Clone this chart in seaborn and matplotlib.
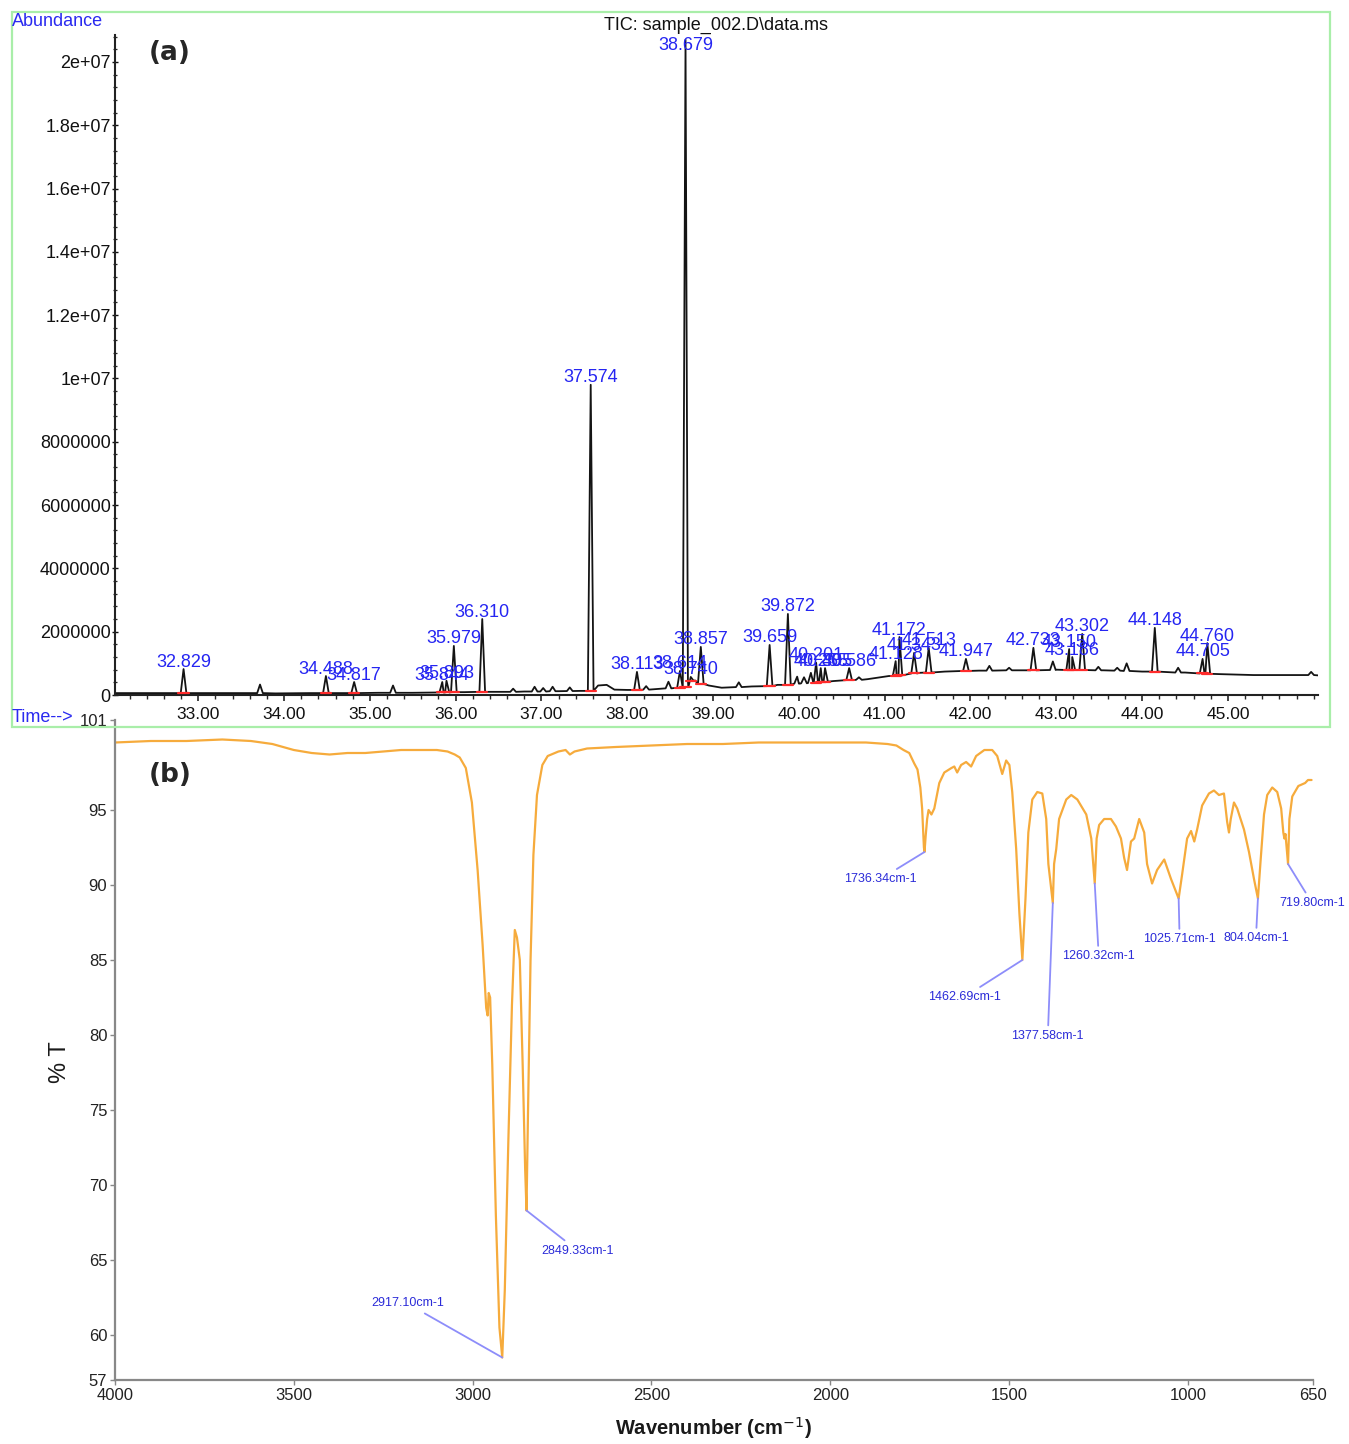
import numpy as np
import pandas as pd
import matplotlib
matplotlib.use("Agg")
import matplotlib.pyplot as plt
from matplotlib.patches import Rectangle
from matplotlib.ticker import FixedLocator, FixedFormatter, MultipleLocator, AutoMinorLocator, FormatStrFormatter
from matplotlib import font_manager
import seaborn as sns

# ------------------------------------------------------------------ data
# (a) TIC chromatogram: baseline knots
tic_base_time = [32.03, 32.6, 33.3, 33.9, 34.3, 34.7, 35.1, 35.5, 35.75, 36.1, 36.5, 36.8,
                 37.2, 37.45, 37.66, 37.76, 37.85, 38.0, 38.3, 38.55, 38.79, 38.95, 39.1,
                 39.45, 39.75, 40.0, 40.4, 40.8, 41.05, 41.4, 41.7, 42.1, 42.6, 43.0, 43.55,
                 44.0, 44.5, 44.9, 45.3, 45.8, 46.05]
tic_base_abund = [6e4, 6e4, 6e4, 5e4, 6e4, 6e4, 7e4, 7e4, 8e4, 9e4, 1.0e5, 1.1e5,
                  1.2e5, 1.3e5, 3.0e5, 3.2e5, 1.7e5, 1.6e5, 1.8e5, 2.2e5, 4.6e5, 3.0e5, 2.3e5,
                  2.7e5, 3.2e5, 3.6e5, 4.4e5, 5.0e5, 6.0e5, 7.0e5, 7.4e5, 7.7e5, 7.8e5, 8.0e5, 7.8e5,
                  7.4e5, 7.1e5, 6.6e5, 6.3e5, 6.3e5, 6.2e5]

# labelled (integrated) peaks
peak_time = [32.829, 34.488, 34.817, 35.844, 35.893, 35.979, 36.310, 37.574, 38.113,
             38.614, 38.679, 38.740, 38.857, 39.659, 39.872, 40.201, 40.255, 40.305,
             40.586, 41.128, 41.172, 41.343, 41.513, 41.947, 42.733, 43.150, 43.186,
             43.302, 44.148, 44.705, 44.760]
peak_label = ["32.829", "34.488", "34.817", "35.844", "35.893", "35.979", "36.310", "37.574",
              "38.113", "38.614", "38.679", "38.740", "38.857", "39.659", "39.872", "40.201",
              "40.255", "40.305", "40.586", "41.128", "41.172", "41.343", "41.513", "41.947",
              "42.733", "43.150", "43.186", "43.302", "44.148", "44.705", "44.760"]
peak_apex = [8.2e5, 6.0e5, 4.1e5, 4.1e5, 4.5e5, 1.55e6, 2.40e6, 9.80e6, 7.3e5,
             7.6e5, 2.07e7, 5.7e5, 1.52e6, 1.58e6, 2.56e6, 1.02e6,
             8.5e5, 8.5e5, 8.5e5, 1.07e6, 1.83e6, 1.33e6, 1.49e6, 1.14e6,
             1.49e6, 1.45e6, 1.20e6, 1.93e6, 2.12e6, 1.14e6, 1.64e6]
peak_floor = [6e4, 6e4, 6e4, 8e4, 8e4, 9e4, 1.0e5, 1.3e5, 1.6e5,
              2.2e5, 2.5e5, 4.5e5, 3.5e5, 2.8e5, 3.2e5, 3.9e5,
              4.1e5, 4.2e5, 4.7e5, 6.0e5, 6.2e5, 6.8e5, 7.1e5, 7.6e5,
              7.8e5, 7.9e5, 7.9e5, 7.9e5, 7.4e5, 6.8e5, 6.7e5]

# small unlabelled peaks
minor_time = [33.72, 35.27, 36.67, 36.92, 37.02, 37.13, 37.33, 38.22, 38.48, 39.30,
              39.98, 40.06, 40.14, 40.70, 42.22, 42.45, 42.96, 43.49, 43.71, 43.82, 44.42, 45.97]
minor_apex = [3.3e5, 3.0e5, 2.0e5, 2.6e5, 2.2e5, 2.6e5, 2.4e5, 2.8e5, 4.2e5, 4.0e5,
              5.8e5, 5.6e5, 7.0e5, 5.6e5, 9.2e5, 8.6e5, 1.06e6, 8.9e5, 8.6e5, 1.0e6, 8.6e5, 7.3e5]
minor_floor = [6e4, 7e4, 1.0e5, 1.1e5, 1.1e5, 1.2e5, 1.25e5, 1.7e5, 2.1e5, 2.5e5,
               3.6e5, 3.7e5, 3.8e5, 4.8e5, 7.7e5, 7.8e5, 7.9e5, 7.8e5, 7.7e5, 7.6e5, 7.1e5, 6.3e5]

abund_ticks = [0, 2e6, 4e6, 6e6, 8e6, 1e7, 1.2e7, 1.4e7, 1.6e7, 1.8e7, 2e7]
abund_tick_labels = ["0", "2000000", "4000000", "6000000", "8000000", "1e+07",
                     "1.2e+07", "1.4e+07", "1.6e+07", "1.8e+07", "2e+07"]
time_ticks = [33, 34, 35, 36, 37, 38, 39, 40, 41, 42, 43, 44, 45]

# (b) FTIR spectrum
ir_wavenumber = [4000, 3900, 3800, 3700, 3620, 3560, 3500, 3450, 3400, 3350, 3300, 3250, 3200,
                 3150, 3100, 3070, 3050, 3036, 3019, 3002, 2986, 2972, 2962, 2958, 2955, 2951,
                 2945, 2935, 2925, 2917.1, 2910, 2900, 2890, 2882, 2876, 2868, 2860, 2853,
                 2849.33, 2845, 2838, 2830, 2820, 2805, 2790, 2760, 2740, 2728, 2715, 2680,
                 2600, 2500, 2400, 2300, 2200, 2100, 2000, 1900, 1840, 1815, 1795, 1779, 1765,
                 1756, 1748, 1743, 1738, 1736.34, 1733, 1729, 1725, 1717, 1709, 1695, 1681,
                 1661, 1653, 1645, 1634, 1620, 1606, 1592, 1569, 1547, 1533, 1519, 1508, 1499,
                 1491, 1480, 1471, 1462.69, 1454, 1446, 1435, 1421, 1407, 1396, 1390, 1377.58,
                 1374, 1368, 1360, 1340, 1326, 1309, 1284, 1270, 1260.32, 1255, 1248, 1234,
                 1215, 1201, 1187, 1178, 1170, 1159, 1150, 1136, 1122, 1114, 1100, 1086, 1066,
                 1047, 1025.71, 1016, 1002, 991, 982, 974, 960, 941, 927, 913, 899, 890, 885,
                 880, 871, 862, 843, 829, 815, 804.04, 796, 787, 778, 764, 750, 739, 733, 730,
                 727, 719.8, 716, 708, 691, 672, 664, 654]
ir_transmittance = [99.5, 99.6, 99.6, 99.7, 99.6, 99.4, 99.0, 98.8, 98.7, 98.8, 98.8, 98.9, 99.0,
                    99.0, 99.0, 98.9, 98.7, 98.5, 97.8, 95.5, 91.0, 86.0, 81.8, 81.3, 82.8, 82.5,
                    78.0, 68.0, 60.5, 58.5, 63.0, 73.0, 82.0, 87.0, 86.5, 85.0, 78.0, 71.0,
                    68.3, 75.0, 85.0, 92.0, 96.0, 98.0, 98.6, 98.9, 99.0, 98.7, 98.9, 99.1,
                    99.2, 99.3, 99.4, 99.4, 99.5, 99.5, 99.5, 99.5, 99.4, 99.3, 99.0, 98.8, 98.1,
                    97.7, 96.5, 95.1, 92.5, 92.2, 93.3, 94.4, 95.0, 94.7, 95.1, 96.8, 97.5,
                    97.8, 97.9, 97.5, 98.0, 98.2, 97.9, 98.6, 99.0, 99.0, 98.6, 97.4, 98.3, 98.0,
                    96.2, 92.4, 88.1, 85.0, 89.1, 93.5, 95.7, 96.2, 96.1, 94.4, 91.4, 88.8,
                    91.4, 92.4, 94.4, 95.7, 96.0, 95.7, 94.7, 93.1, 90.1, 93.1, 94.0, 94.4,
                    94.4, 93.9, 93.1, 91.8, 91.0, 92.9, 93.1, 94.4, 93.5, 91.4, 90.1, 91.0, 91.7,
                    90.4, 89.1, 90.7, 93.1, 93.6, 92.9, 93.7, 95.3, 96.1, 96.3, 96.0, 96.1, 94.2, 93.5,
                    94.4, 95.5, 95.1, 93.7, 92.2, 90.4, 89.1, 91.8, 94.7, 96.0, 96.5, 96.2, 95.1, 93.5, 93.1,
                    93.4, 91.4, 94.4, 95.9, 96.6, 96.8, 97.0, 97.0]

ir_peak_labels = ["2917.10cm-1", "2849.33cm-1", "1736.34cm-1", "1462.69cm-1", "1377.58cm-1",
                  "1260.32cm-1", "1025.71cm-1", "804.04cm-1", "719.80cm-1"]
ir_peak_wn = [2917.10, 2849.33, 1736.34, 1462.69, 1377.58, 1260.32, 1025.71, 804.04, 719.80]
ir_peak_T = [58.5, 68.3, 92.2, 85.0, 88.8, 90.1, 89.1, 89.1, 91.4]

wn_ticks = [4000, 3500, 3000, 2500, 2000, 1500, 1000, 650]
t_ticks = [101, 95, 90, 85, 80, 75, 70, 65, 60, 57]

# ------------------------------------------------------------------ layout / style
W, H = 1349, 1444
PEAK_HW = 0.033
ir_label_offsets = [(-95, 54), (51, -40), (-44, -27), (-58, -37), (-5, -133),
                    (4, -73), (1, -41), (-2, -40), (24, -39)]

sns.set_style("white")
names = {f.name for f in font_manager.fontManager.ttflist}
NARROW = "Liberation Sans Narrow" if "Liberation Sans Narrow" in names else "Liberation Sans"
plt.rcParams["font.family"] = ["Liberation Sans", "DejaVu Sans"]


def rect(l, t, r, b):
    return [l / W, 1 - b / H, (r - l) / W, (b - t) / H]


fig = plt.figure(figsize=(W / 100, H / 100), dpi=100)
fig.patch.set_facecolor("white")

# green frame around panel a
fig.patches.append(Rectangle((12 / W, 1 - 727 / H), 1318 / W, 715 / H, transform=fig.transFigure,
                             fill=False, edgecolor="#a9eea9", lw=1.6, zorder=0))

# ------------------------------------------------------------------ panel a
ax_a = fig.add_axes(rect(115, 35, 1318, 695))
rows_t, rows_a = list(tic_base_time), list(tic_base_abund)
for tt, ap, fl in zip(peak_time + minor_time, peak_apex + minor_apex, peak_floor + minor_floor):
    rows_t += [tt - PEAK_HW, tt, tt + PEAK_HW]
    rows_a += [fl, ap, fl]
tic = pd.DataFrame({"time": rows_t, "abund": rows_a}).sort_values("time")
sns.lineplot(data=tic, x="time", y="abund", ax=ax_a, color="#141414", lw=1.3,
             estimator=None, sort=True)
for tt, fl in zip(peak_time, peak_floor):
    ax_a.plot([tt - 0.06, tt + 0.06], [fl, fl], color="#ff2b2b", lw=1.6, zorder=3)

ax_a.set_xlim(32.03, 46.05)
ax_a.set_ylim(0, 2.085e7)
ytop = 2.085e7
for tt, ap, lab in zip(peak_time, peak_apex, peak_label):
    if ap > 0.95 * ytop:
        ax_a.annotate(lab, xy=(tt, ytop), xytext=(0, -2), textcoords="offset pixels",
                      ha="center", va="top", color="#2525f2", fontsize=13)
    else:
        ax_a.annotate(lab, xy=(tt, ap), xytext=(0, 2.5), textcoords="offset pixels",
                      ha="center", va="baseline", color="#2525f2", fontsize=13)

ax_a.xaxis.set_major_locator(FixedLocator(time_ticks))
ax_a.xaxis.set_major_formatter(FormatStrFormatter("%.2f"))
ax_a.xaxis.set_minor_locator(MultipleLocator(0.2))
ax_a.yaxis.set_major_locator(FixedLocator(abund_ticks))
ax_a.yaxis.set_major_formatter(FixedFormatter(abund_tick_labels))
ax_a.yaxis.set_minor_locator(AutoMinorLocator(5))
ax_a.set_xlabel("")
ax_a.set_ylabel("")
for s in ["top", "right"]:
    ax_a.spines[s].set_visible(False)
for s in ["left", "bottom"]:
    ax_a.spines[s].set_color("#222222")
    ax_a.spines[s].set_linewidth(1.5)
ax_a.tick_params(axis="x", which="major", direction="out", length=4.5, width=1.1,
                 labelsize=12.5, pad=4, colors="#111111", bottom=True)
ax_a.tick_params(axis="x", which="minor", direction="out", length=2.6, width=1.0, bottom=True)
ax_a.tick_params(axis="y", which="major", direction="inout", length=4, width=1.0,
                 labelsize=13, pad=1, colors="#111111", left=True)
ax_a.tick_params(axis="y", which="minor", direction="inout", length=2.5, width=0.9, left=True)

fig.text(12 / W, 1 - 22 / H, "Abundance", color="#2a2af0", fontsize=13, ha="left", va="center")
fig.text(12 / W, 1 - 718 / H, "Time-->", color="#2a2af0", fontsize=13, ha="left", va="center")
fig.text(716 / W, 1 - 25 / H, r"TIC: sample_002.D\data.ms", color="#111111", fontsize=13,
         ha="center", va="center")
fig.text(170 / W, 1 - 53 / H, "(a)", fontsize=19, fontweight="bold", ha="center", va="center",
         family=["DejaVu Sans"])

# ------------------------------------------------------------------ panel b
ax_b = fig.add_axes(rect(115, 720, 1313, 1380))
ax_b.patch.set_alpha(0)
ir = pd.DataFrame({"wn": ir_wavenumber, "T": ir_transmittance})
sns.lineplot(data=ir, x="wn", y="T", ax=ax_b, color="#f6ab3c", lw=1.6, estimator=None, sort=True)
ax_b.set_xlim(4000, 650)
ax_b.set_ylim(57, 101)
for lab, wn, tv, (dx, dy) in zip(ir_peak_labels, ir_peak_wn, ir_peak_T, ir_label_offsets):
    ax_b.annotate(lab, xy=(wn, tv), xytext=(dx, dy), textcoords="offset pixels",
                  ha="center", va="center", color="#2b2bd8", fontsize=9, family=[NARROW],
                  arrowprops=dict(arrowstyle="-", color="#8d8dfa", lw=1.3, shrinkA=1, shrinkB=0))
ax_b.xaxis.set_major_locator(FixedLocator(wn_ticks))
ax_b.yaxis.set_major_locator(FixedLocator(t_ticks))
ax_b.xaxis.set_major_formatter(FormatStrFormatter("%d"))
ax_b.yaxis.set_major_formatter(FormatStrFormatter("%d"))
for s in ["top", "right"]:
    ax_b.spines[s].set_visible(False)
for s in ["left", "bottom"]:
    ax_b.spines[s].set_color("#888888")
    ax_b.spines[s].set_linewidth(1.6)
ax_b.tick_params(axis="both", which="major", direction="out", length=3.5, width=1.0,
                 color="#888888", labelcolor="#222222", labelsize=12, pad=2,
                 left=True, bottom=True)
for lbl in ax_b.get_xticklabels() + ax_b.get_yticklabels():
    lbl.set_family([NARROW])
ax_b.set_xlabel("Wavenumber (cm$^{-1}$)", fontsize=14.5, fontweight="bold", color="#1a1a1a",
                labelpad=9)
ax_b.set_ylabel("% T", fontsize=17, color="#1a1a1a")
ax_b.yaxis.set_label_coords((71 - 115) / 1198, (1380 - 1062) / 660)
fig.text(170 / W, 1 - 775 / H, "(b)", fontsize=19, fontweight="bold", ha="center", va="center",
         family=["DejaVu Sans"])

fig.savefig("out.png", dpi=100, facecolor="white")
